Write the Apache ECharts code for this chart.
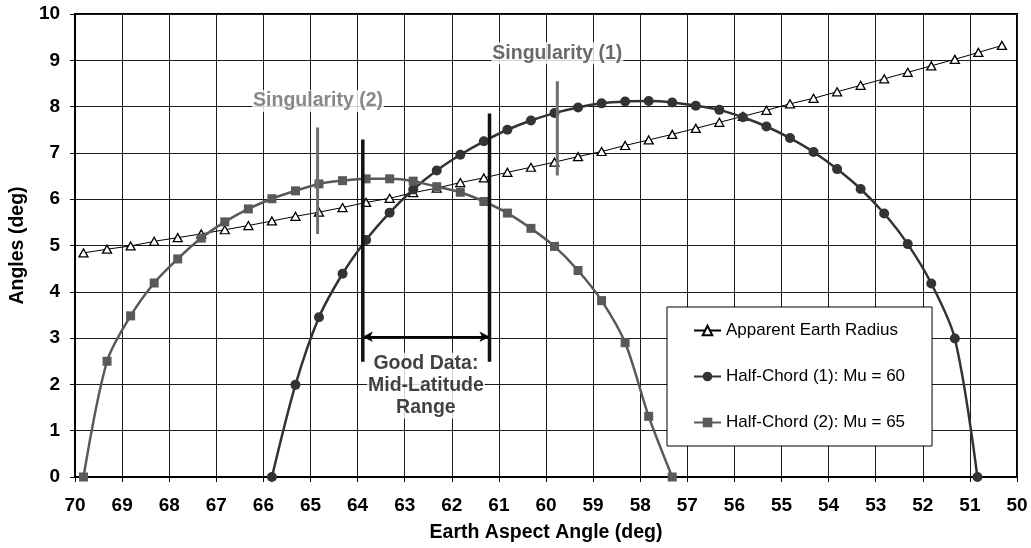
<!DOCTYPE html>
<html>
<head>
<meta charset="utf-8">
<script src="https://cdn.jsdelivr.net/npm/echarts@6/dist/echarts.min.js"></script>
<style>html,body{margin:0;padding:0;background:#fff}#c{width:1031px;height:548px}</style>
</head>
<body>
<div id="c"></div>
<script>
// ---- data ----
var radiusX = [69.82,69.32,68.82,68.32,67.82,67.32,66.82,66.32,65.82,65.32,64.82,64.32,63.82,63.32,62.82,62.32,61.82,61.32,60.82,60.32,59.82,59.32,58.82,58.32,57.82,57.32,56.82,56.32,55.82,55.32,54.82,54.32,53.82,53.32,52.82,52.32,51.82,51.32,50.82,50.32];
var radiusY = [4.84,4.92,4.99,5.09,5.17,5.25,5.34,5.43,5.53,5.63,5.72,5.82,5.93,6.02,6.14,6.24,6.36,6.46,6.58,6.69,6.80,6.92,7.03,7.16,7.28,7.40,7.53,7.66,7.79,7.92,8.06,8.18,8.32,8.46,8.60,8.74,8.88,9.02,9.17,9.32];
var chord1X = [65.82,65.32,64.82,64.32,63.82,63.32,62.82,62.32,61.82,61.32,60.82,60.32,59.82,59.32,58.82,58.32,57.82,57.32,56.82,56.32,55.82,55.32,54.82,54.32,53.82,53.32,52.82,52.32,51.82,51.32,50.84];
var chord1Y = [0,1.99,3.45,4.39,5.12,5.71,6.21,6.62,6.96,7.25,7.50,7.70,7.86,7.98,8.07,8.11,8.12,8.09,8.02,7.93,7.77,7.57,7.32,7.02,6.65,6.22,5.69,5.03,4.18,2.99,0];
var chord2X = [69.82,69.32,68.82,68.32,67.82,67.32,66.82,66.32,65.82,65.32,64.82,64.32,63.82,63.32,62.82,62.32,61.82,61.32,60.82,60.32,59.82,59.32,58.82,58.32,57.82,57.32];
var chord2Y = [0,2.50,3.48,4.19,4.71,5.16,5.51,5.79,6.01,6.18,6.33,6.40,6.44,6.44,6.39,6.27,6.15,5.95,5.70,5.37,4.98,4.46,3.81,2.90,1.31,0];
var seriesNames = ['Apparent Earth Radius','Half-Chord (1): Mu = 60','Half-Chord (2): Mu = 65'];
var xTicks = [50,51,52,53,54,55,56,57,58,59,60,61,62,63,64,65,66,67,68,69,70];
var yTicks = [0,1,2,3,4,5,6,7,8,9,10];

// annotation values (data coordinates)
var sing2Line = [[64.85,7.55],[64.85,5.25]];
var sing1Line = [[59.76,8.55],[59.76,6.51]];
var goodLeft = [[63.89,7.29],[63.89,2.49]];
var goodRight = [[61.20,7.85],[61.20,2.49]];
var goodArrow = [[63.89,3.03],[61.20,3.03]];
var labelTexts = ['Singularity (2)','Singularity (1)','Good Data:\nMid-Latitude\nRange'];
var labelPos = [[64.84,8.12],[59.76,9.15],[62.55,1.97]];

// ---- chart ----
function zip(xs, ys){ return xs.map(function(x,i){ return [x, ys[i]]; }); }
var FONT = "'Liberation Sans', Arial, Helvetica, sans-serif";
var chart = echarts.init(document.getElementById('c'));

function vline(data, color, width){
  return { type:'line', data:data, symbol:'none', silent:true, z:6,
    lineStyle:{color:color, width:width}, tooltip:{show:false} };
}
function textPt(i, color){
  return { type:'scatter', data:[labelPos[i]], symbolSize:1, silent:true, z:7,
    itemStyle:{color:'rgba(0,0,0,0)'},
    label:{ show:true, position:'inside', formatter:labelTexts[i], color:color,
      fontFamily:FONT, fontWeight:'bold', fontSize:19.5, lineHeight:22, align:'center',
      backgroundColor:'#fff', padding:[0,1] } };
}

chart.setOption({
  animation:false,
  backgroundColor:'#fff',
  textStyle:{fontFamily:FONT},
  grid:{left:74, right:14, top:14, bottom:71, show:true, borderColor:'#000', borderWidth:2, backgroundColor:'#fff'},
  legend:{
    data:seriesNames, orient:'vertical', left:667, top:307,
    backgroundColor:'#fff', borderColor:'#000', borderWidth:1,
    padding:[15,27,15,26], itemGap:29, itemWidth:27, itemHeight:12,
    textStyle:{fontFamily:FONT, fontSize:17, color:'#000'}, z:10
  },
  xAxis:{
    type:'value', inverse:true, min:xTicks[0], max:xTicks[xTicks.length-1], interval:1,
    name:'Earth Aspect Angle (deg)', nameLocation:'middle', nameGap:46,
    nameTextStyle:{fontFamily:FONT, fontWeight:'bold', fontSize:19.5, color:'#000'},
    axisLine:{show:true, lineStyle:{color:'#000', width:2}},
    axisTick:{show:true, length:5, lineStyle:{color:'#000'}},
    axisLabel:{fontFamily:FONT, fontWeight:'bold', fontSize:19, color:'#000', margin:19},
    splitLine:{show:true, lineStyle:{color:'#1a1a1a', width:1}}
  },
  yAxis:{
    type:'value', min:yTicks[0], max:yTicks[yTicks.length-1], interval:1,
    name:'Angles (deg)', nameLocation:'middle', nameGap:46,
    nameTextStyle:{fontFamily:FONT, fontWeight:'bold', fontSize:19.5, color:'#000'},
    axisLine:{show:true, lineStyle:{color:'#000', width:2}},
    axisTick:{show:true, length:5, lineStyle:{color:'#000'}},
    axisLabel:{fontFamily:FONT, fontWeight:'bold', fontSize:19, color:'#000', margin:15},
    splitLine:{show:true, lineStyle:{color:'#1a1a1a', width:1}}
  },
  series:[
    { name:seriesNames[0], type:'line', data:zip(radiusX, radiusY), z:3,
      symbol:'triangle', symbolSize:[9,8], showAllSymbol:true,
      lineStyle:{color:'#000', width:1},
      itemStyle:{color:'#fff', borderColor:'#000', borderWidth:1.3} },
    { name:seriesNames[1], type:'line', data:zip(chord1X, chord1Y), z:4, smooth:0.3,
      symbol:'circle', symbolSize:10, showAllSymbol:true,
      lineStyle:{color:'#333', width:2.5},
      itemStyle:{color:'#333'} },
    { name:seriesNames[2], type:'line', data:zip(chord2X, chord2Y), z:4, smooth:0.3,
      symbol:'rect', symbolSize:9, showAllSymbol:true,
      lineStyle:{color:'#595959', width:2.5},
      itemStyle:{color:'#595959'} },
    vline(sing2Line, '#6e6e6e', 3),
    vline(sing1Line, '#6e6e6e', 3),
    vline(goodLeft, '#111', 3.5),
    vline(goodRight, '#111', 3.5),
    { type:'line', data:[], silent:true, z:6,
      markLine:{ silent:true, symbol:['arrow','arrow'], symbolSize:[8,10], label:{show:false},
        lineStyle:{color:'#000', width:2, type:'solid'},
        data:[[{coord:goodArrow[0]},{coord:goodArrow[1]}]] } },
    textPt(0, '#6a6a6a'),
    textPt(1, '#444'),
    textPt(2, '#111')
  ]
});
</script>
</body>
</html>
